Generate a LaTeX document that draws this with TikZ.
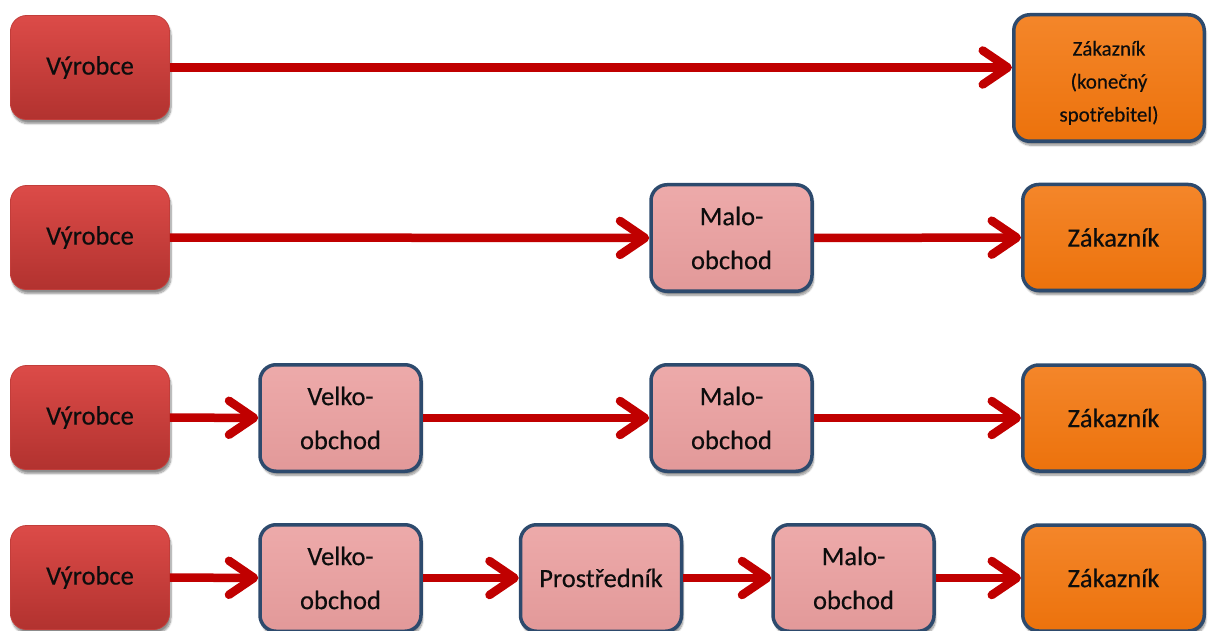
\documentclass[tikz,border=0pt]{standalone}
\usepackage{fontspec}
\setmainfont{Carlito}
\newfontfamily\boxfont{Carlito}[FakeBold=0.35]
\usetikzlibrary{arrows.meta,shadows.blur}

\definecolor{makertop}{HTML}{DC4B48}
\definecolor{makerbot}{HTML}{B2322F}
\definecolor{makeredge}{HTML}{C23D3A}
\definecolor{tradetop}{HTML}{EDAAAA}
\definecolor{tradebot}{HTML}{E29999}
\definecolor{buyertop}{HTML}{F4862A}
\definecolor{buyerbot}{HTML}{EC720C}
\definecolor{frame}{HTML}{2D4A6D}
\definecolor{flowred}{HTML}{C00000}

\tikzset{
  box/.style={rounded corners=16pt, align=center, inner sep=2pt,
    text=black!95, font=\boxfont\fontsize{26.5}{44}\selectfont,
    blur shadow={shadow xshift=1.5pt, shadow yshift=-4pt,
      shadow blur steps=8, shadow opacity=45}},
  maker/.style={box, top color=makertop, bottom color=makerbot,
    draw=makeredge, line width=0.8pt,
    minimum width=159pt, minimum height=104pt},
  trade/.style={box, top color=tradetop, bottom color=tradebot,
    draw=frame, line width=3.5pt,
    minimum width=161pt, minimum height=106.5pt},
  buyer/.style={box, top color=buyertop, bottom color=buyerbot,
    draw=frame, line width=3.5pt,
    minimum width=181.5pt, minimum height=106pt},
  flow/.style={draw=flowred, line width=8.5pt,
    -{Straight Barb[length=25pt, width=34pt, round]}}
}

\begin{document}
\begin{tikzpicture}[x=1pt, y=-1pt]
\useasboundingbox (0,0) rectangle (1208,631);

% row 1: producer straight to the end customer
\node[maker] (v1) at (90,67.5) {Výrobce};
\node[buyer, minimum width=190.5pt, minimum height=126.5pt,
      font=\boxfont\fontsize{21}{33}\selectfont] (z1) at (1109,78)
      {\begin{tabular}{@{}c@{}}\rule{0pt}{31pt}Zákazník\\(konečný\\spotřebitel)\end{tabular}};
\draw[flow] (v1.east) -- (v1.east -| z1.west);

% row 2: through the retailer
\node[maker] (v2) at (90,237.5) {Výrobce};
\node[trade] (m2) at (731.5,238) {Malo-\\obchod};
\node[buyer] (z2) at (1113.5,237.5) {Zákazník};
\draw[flow] (v2) -- (m2);
\draw[flow] (m2) -- (z2);

% row 3: wholesaler and retailer
\node[maker] (v3) at (90,417.5) {Výrobce};
\node[trade] (w3) at (340.5,418) {Velko-\\obchod};
\node[trade] (m3) at (731.5,418) {Malo-\\obchod};
\node[buyer] (z3) at (1113.5,418) {Zákazník};
\draw[flow] (v3) -- (w3);
\draw[flow] (w3) -- (m3);
\draw[flow] (m3) -- (z3);

% row 4: wholesaler, agent and retailer
\node[maker] (v4) at (90,577.5) {Výrobce};
\node[trade] (w4) at (340.5,578) {Velko-\\obchod};
\node[trade] (p4) at (601,578) {Prostředník};
\node[trade] (m4) at (853.5,578) {Malo-\\obchod};
\node[buyer] (z4) at (1113.5,578) {Zákazník};
\draw[flow] (v4) -- (w4);
\draw[flow] (w4) -- (p4);
\draw[flow] (p4) -- (m4);
\draw[flow] (m4) -- (z4);
\end{tikzpicture}
\end{document}
